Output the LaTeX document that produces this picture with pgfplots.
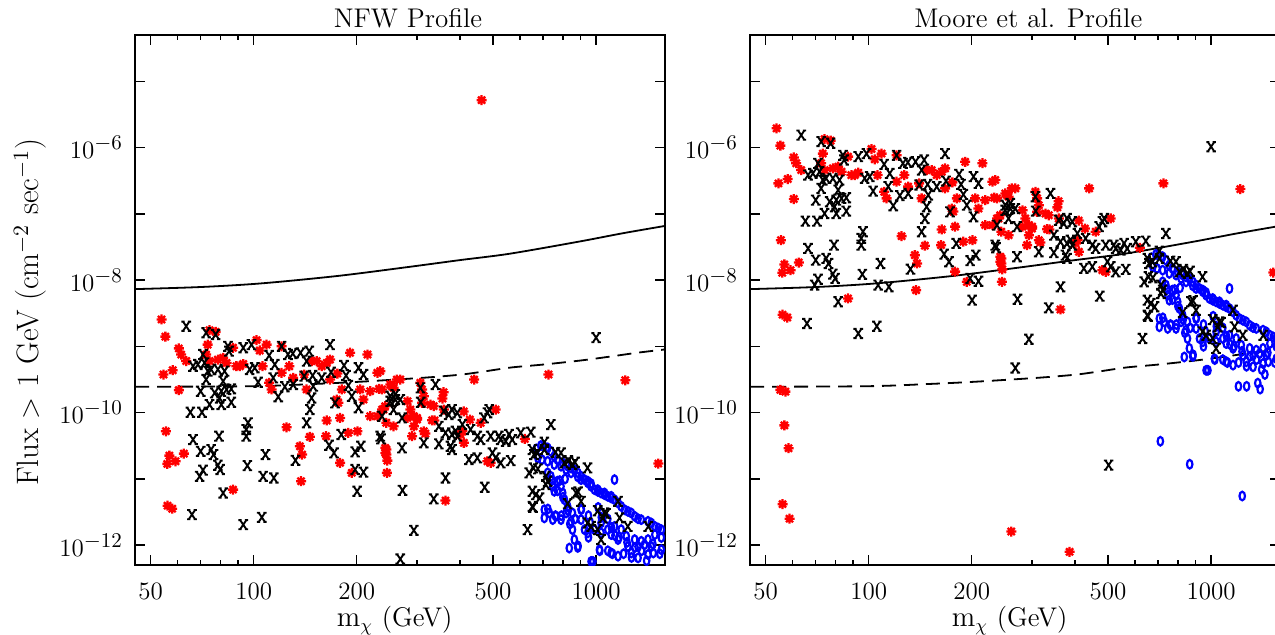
\documentclass[border=0pt]{standalone}
\usepackage{pgfplots}
\usepackage{pgfplotstable}
\usepackage{graphicx}
\pgfplotsset{compat=1.18}
\definecolor{pgred}{RGB}{255,0,0}
\definecolor{pgblue}{RGB}{0,0,255}
\newcommand{\tl}[1]{10\raisebox{4.4pt}{\fontsize{10.5}{12}\selectfont$-$#1}}

\pgfdeclareplotmark{ast8}{%
  \pgfpathmoveto{\pgfqpoint{-\pgfplotmarksize}{0pt}}\pgfpathlineto{\pgfqpoint{\pgfplotmarksize}{0pt}}%
  \pgfpathmoveto{\pgfqpoint{0pt}{-\pgfplotmarksize}}\pgfpathlineto{\pgfqpoint{0pt}{\pgfplotmarksize}}%
  \pgfpathmoveto{\pgfqpoint{-0.707\pgfplotmarksize}{-0.707\pgfplotmarksize}}\pgfpathlineto{\pgfqpoint{0.707\pgfplotmarksize}{0.707\pgfplotmarksize}}%
  \pgfpathmoveto{\pgfqpoint{-0.707\pgfplotmarksize}{0.707\pgfplotmarksize}}\pgfpathlineto{\pgfqpoint{0.707\pgfplotmarksize}{-0.707\pgfplotmarksize}}%
  \pgfusepathqstroke}
\pgfdeclareplotmark{serifx}{%
  \pgfpathmoveto{\pgfqpoint{-0.68\pgfplotmarksize}{-\pgfplotmarksize}}\pgfpathlineto{\pgfqpoint{0.68\pgfplotmarksize}{\pgfplotmarksize}}%
  \pgfpathmoveto{\pgfqpoint{-0.68\pgfplotmarksize}{\pgfplotmarksize}}\pgfpathlineto{\pgfqpoint{0.68\pgfplotmarksize}{-\pgfplotmarksize}}%
  \pgfpathmoveto{\pgfqpoint{-1.05\pgfplotmarksize}{\pgfplotmarksize}}\pgfpathlineto{\pgfqpoint{-0.35\pgfplotmarksize}{\pgfplotmarksize}}%
  \pgfpathmoveto{\pgfqpoint{0.35\pgfplotmarksize}{\pgfplotmarksize}}\pgfpathlineto{\pgfqpoint{1.05\pgfplotmarksize}{\pgfplotmarksize}}%
  \pgfpathmoveto{\pgfqpoint{-1.05\pgfplotmarksize}{-\pgfplotmarksize}}\pgfpathlineto{\pgfqpoint{-0.35\pgfplotmarksize}{-\pgfplotmarksize}}%
  \pgfpathmoveto{\pgfqpoint{0.35\pgfplotmarksize}{-\pgfplotmarksize}}\pgfpathlineto{\pgfqpoint{1.05\pgfplotmarksize}{-\pgfplotmarksize}}%
  \pgfusepathqstroke}

% x = m_chi (GeV), nfw = flux (NFW), moore = flux (Moore et al.)
\pgfplotstableread{
x nfw moore
53.8 2.54e-9 1.95e-6
55.2 1.40e-9 1.07e-6
60.4 9.3e-10 7.1e-7
61.4 7.5e-10 5.8e-7
63.5 6.0e-10 4.57e-7
54.5 3.75e-10 2.88e-7
58.0 4.36e-10 3.35e-7
60.4 2.18e-10 1.67e-7
74.3 1.75e-9 1.34e-6
77.4 1.65e-9 1.27e-6
73.4 1.06e-9 8.1e-7
72.6 7.5e-10 5.8e-7
74.3 6.0e-10 4.57e-7
78.6 6.3e-10 4.85e-7
81.4 6.7e-10 5.14e-7
83.3 5.6e-10 4.32e-7
87.0 9.5e-10 7.3e-7
89.0 5.0e-10 3.84e-7
91.0 5.0e-10 3.84e-7
93.2 5.4e-10 4.17e-7
101.9 1.24e-9 9.5e-7
104.1 8.65e-10 6.65e-7
106.1 5.0e-10 3.84e-7
109 1.06e-9 8.1e-7
120.6 1.0e-9 7.65e-7
110.9 2.81e-10 2.15e-7
112.7 2.23e-10 1.71e-7
120.6 3.98e-10 3.05e-7
127 5.0e-10 3.84e-7
130.4 3.34e-10 2.57e-7
124.7 6.0e-11 4.6e-8
140.4 3.75e-10 2.88e-7
147.6 6.0e-10 4.57e-7
152.7 6.0e-10 4.57e-7
158 5.0e-10 3.84e-7
163.4 5.6e-10 4.32e-7
167.1 3.15e-10 2.42e-7
175.5 3.88e-10 2.98e-7
142.7 2.23e-10 1.71e-7
136.4 3.1e-11 2.38e-8
137.5 9.2e-12 7.05e-9
145.9 4.3e-11 3.3e-8
138.4 2.32e-11 1.78e-8
163.4 7.6e-11 5.8e-8
162.6 4.4e-11 3.37e-8
178.7 8.3e-11 6.4e-8
191.2 8.0e-10 6.1e-7
174.7 1.57e-10 1.2e-7
176.6 1.41e-10 1.08e-7
180.9 2.23e-10 1.71e-7
188.9 4.94e-11 3.79e-8
178.7 1.74e-11 1.34e-8
193.4 1.23e-11 9.4e-9
200.9 5.22e-11 4.0e-8
214.9 7.52e-10 5.8e-7
204.6 2.23e-10 1.71e-7
218.9 2.1e-10 1.61e-7
209.2 1.57e-10 1.2e-7
229.8 3.98e-10 3.05e-7
232.4 2.28e-10 1.75e-7
239.5 1.11e-10 8.5e-8
218.9 8.8e-11 6.75e-8
229.8 8.8e-11 6.75e-8
243.9 7.0e-11 5.36e-8
256.1 6.2e-11 4.76e-8
243.9 2.76e-11 2.12e-8
243.9 2.32e-11 1.78e-8
245.6 1.88e-11 1.45e-8
245.0 1.23e-11 9.4e-9
253.4 2.5e-10 1.92e-7
261.8 3.15e-10 2.42e-7
55.4 5.22e-11 4.0e-8
56.7 2.24e-11 1.72e-8
55.9 1.68e-11 1.29e-8
59.1 1.84e-11 1.41e-8
62.5 2.4e-11 1.84e-8
56.0 3.93e-12 3.0e-9
57.8 3.54e-12 2.72e-9
87.0 6.87e-12 5.27e-9
167.1 6.32e-10 4.85e-7
234.2 4.22e-10 3.23e-7
250.5 2.65e-10 2.03e-7
256.1 2.36e-10 1.81e-7
268 3.15e-10 2.42e-7
237 2.23e-10 1.71e-7
237 1.11e-10 8.5e-8
242.2 1.25e-10 9.5e-8
242.2 2.93e-11 2.25e-8
242.2 2.46e-11 1.89e-8
281.3 1.48e-10 1.13e-7
286.8 1.11e-10 8.5e-8
293.6 8.8e-11 6.75e-8
281.3 8.3e-11 6.4e-8
293.6 6.2e-11 4.76e-8
300 8.3e-11 6.4e-8
306.8 2.81e-10 2.15e-7
310.4 2.23e-10 1.71e-7
313.9 1.76e-10 1.35e-7
310.4 1.4e-10 1.07e-7
328.2 1.32e-10 1.01e-7
335.6 1.25e-10 9.5e-8
313.9 5.22e-11 4.0e-8
317.3 4.82e-11 3.7e-8
337.2 7.6e-11 5.8e-8
300 7.84e-11 6.0e-8
290.1 4.4e-11 3.37e-8
355.9 1.63e-10 1.25e-7
359.1 1.11e-10 8.5e-8
331.8 7.65e-11 5.87e-8
410.6 1.04e-10 7.9e-8
358.5 2.03e-10 1.55e-7
407.2 5.22e-11 4.0e-8
402 4.66e-11 3.57e-8
411 3.49e-11 2.67e-8
428 7.84e-11 6.0e-8
440.5 3.15e-10 2.42e-7
460.1 7.0e-11 5.36e-8
509 1.11e-10 8.5e-8
481.4 1.84e-11 1.41e-8
492.2 1.74e-11 1.33e-8
363.2 4.69e-12 3.6e-9
619 4.0e-11 3.07e-8
726 3.75e-10 2.88e-7
1217 3.07e-10 2.36e-7
1520 1.7e-11 1.3e-8
463 5.2e-6 4.0e-3
55.2 2.9e-13 2.2e-10
57.1 2.7e-13 2.07e-10
56.7 8.4e-14 6.4e-11
58.3 3.8e-14 2.9e-11
56.0 5.4e-15 4.15e-12
58.7 3.3e-15 2.5e-12
260.8 2.1e-15 1.6e-12
386 1.0e-15 7.9e-13
}\reddata

\pgfplotstableread{
x nfw moore
63.5 2.01e-9 1.54e-6
72.6 1.6e-9 1.23e-6
77.4 1.51e-9 1.16e-6
84.1 1.0e-9 7.64e-7
84.7 8.44e-10 6.5e-7
93.2 9.5e-10 7.3e-7
98.5 1.06e-9 8.1e-7
110.9 7.26e-10 5.57e-7
120.6 1.0e-9 7.64e-7
125.9 7.52e-10 5.77e-7
130.1 7.78e-10 5.97e-7
137.0 7.98e-10 6.1e-7
145.2 8.44e-10 6.5e-7
142.7 5.96e-10 4.57e-7
66.5 5.0e-10 3.84e-7
68.7 5.31e-10 4.07e-7
71.1 7.52e-10 5.77e-7
71.8 5.63e-10 4.32e-7
73.4 4.22e-10 3.23e-7
75.1 4.47e-10 3.43e-7
78.6 4.47e-10 3.43e-7
82.2 4.22e-10 3.23e-7
72.6 3.15e-10 2.42e-7
81.4 2.97e-10 2.28e-7
97.3 4.47e-10 3.43e-7
100.7 4.74e-10 3.64e-7
103.0 2.87e-10 2.2e-7
115.2 5.31e-10 4.07e-7
114.0 3.34e-10 2.57e-7
117.9 1.73e-10 1.32e-7
123.3 2.45e-10 1.88e-7
130.4 2.65e-10 2.03e-7
140.4 3.54e-10 2.72e-7
148.6 3.62e-10 2.78e-7
158 3.34e-10 2.57e-7
147.6 1.66e-10 1.28e-7
145.9 1.11e-10 8.5e-8
142.7 7.0e-11 5.36e-8
149.2 2.5e-10 1.92e-7
167.1 1.06e-9 8.1e-7
168.2 4.06e-10 3.12e-7
172.8 1.4e-10 1.07e-7
183.6 5.13e-10 3.94e-7
186.1 3.62e-10 2.78e-7
189.0 2.56e-10 1.96e-7
193.4 1.76e-10 1.35e-7
202.3 4.74e-10 3.64e-7
209.2 3.75e-10 2.88e-7
202.3 1.18e-10 9.0e-8
70.0 2.1e-10 1.61e-7
76.9 1.98e-10 1.52e-7
80.4 2.1e-10 1.61e-7
83.3 2.23e-10 1.71e-7
86.0 2.28e-10 1.75e-7
79.5 1.66e-10 1.28e-7
80.4 1.32e-10 1.01e-7
86.0 1.43e-10 1.1e-7
74.3 1.32e-10 1.01e-7
65.3 1.01e-10 7.75e-8
70.6 1.01e-10 7.75e-8
96.2 7.0e-11 5.36e-8
95.1 5.54e-11 4.25e-8
95.1 4.4e-11 3.37e-8
79.2 4.4e-11 3.37e-8
66.5 3.91e-11 3.0e-8
70.0 2.6e-11 2.0e-8
75.1 2.76e-11 2.12e-8
76.3 2.32e-11 1.78e-8
108.2 2.32e-11 1.78e-8
69.5 1.09e-11 8.4e-9
71.1 1.35e-11 1.03e-8
78.6 1.6e-11 1.23e-8
79.8 1.38e-11 1.06e-8
95.8 1.58e-11 1.22e-8
106.5 1.09e-11 8.4e-9
114.5 1.03e-11 7.9e-9
81.4 6.1e-12 4.7e-9
132.4 1.9e-11 1.46e-8
66.0 2.88e-12 2.21e-9
93.2 2.03e-12 1.56e-9
105.6 2.62e-12 2.01e-9
166.0 3.21e-11 2.46e-8
171.6 2.46e-11 1.89e-8
180.2 4.66e-11 3.57e-8
197.8 2.55e-11 1.96e-8
205.6 3.1e-11 2.38e-8
197.8 1.38e-11 1.06e-8
209.2 1.26e-11 9.6e-9
200.4 6.48e-12 4.97e-9
235.3 4.0e-11 3.07e-8
250.5 1.76e-10 1.35e-7
259.1 1.87e-10 1.43e-7
237.0 8.8e-11 6.75e-8
256.1 1.11e-10 8.5e-8
339.5 2.65e-10 2.03e-7
259.1 1.57e-10 1.2e-7
268 1.57e-10 1.2e-7
250.5 1.48e-10 1.13e-7
271.1 8.3e-11 6.4e-8
234.2 4.4e-11 3.37e-8
271.1 2.93e-11 2.25e-8
306.8 2.36e-10 1.81e-7
307.5 1.43e-10 1.1e-7
313.9 3.49e-11 2.67e-8
347.3 3.37e-11 2.59e-8
359.1 1.05e-10 8.0e-8
371.1 9.33e-11 7.2e-8
379.3 1.11e-10 8.5e-8
393.1 9.9e-11 7.6e-8
347.3 6.2e-11 4.76e-8
363.2 4.94e-11 3.79e-8
379.3 4.66e-11 3.57e-8
388.6 5.22e-11 4.0e-8
393.1 4.4e-11 3.37e-8
375.7 3.1e-11 2.38e-8
379.3 2.76e-11 2.12e-8
406.9 6.59e-11 5.05e-8
430 5.54e-11 4.25e-8
449.9 4.4e-11 3.37e-8
460.1 3.91e-11 3.0e-8
470.8 8.3e-11 6.4e-8
481.9 9.9e-11 7.6e-8
487.2 1.11e-10 8.5e-8
492.2 4.4e-11 3.37e-8
520 4.4e-11 3.37e-8
526.6 3.91e-11 3.0e-8
544.7 3.69e-11 2.83e-8
557 4.66e-11 3.57e-8
569 3.91e-11 3.0e-8
602.7 4.94e-11 3.79e-8
644.8 5.06e-11 3.88e-8
425 1.95e-11 1.5e-8
449.9 2.07e-11 1.59e-8
498 2.46e-11 1.89e-8
509 2.07e-11 1.59e-8
526.6 1.74e-11 1.33e-8
563.4 1.88e-11 1.45e-8
738 6.59e-11 5.05e-8
1000 1.35e-9 1.03e-6
363.2 1.03e-11 7.9e-9
272 6.7e-12 5.14e-9
335.6 4.97e-12 3.81e-9
472.7 7.45e-12 5.71e-9
293.6 1.67e-12 1.28e-9
268 6.15e-13 4.7e-10
630.7 1.71e-12 1.31e-9
651.4 2.76e-11 2.12e-8
658.7 2.32e-11 1.78e-8
674.3 2.46e-11 1.89e-8
706.3 3.56e-11 2.73e-8
706.3 2.76e-11 2.12e-8
637.5 1.23e-11 9.4e-9
656 1.46e-11 1.12e-8
713.6 1.09e-11 8.4e-9
722 9.2e-12 7.05e-9
713.6 8.17e-12 6.27e-9
651.4 6.48e-12 4.97e-9
667 5.77e-12 4.43e-9
651.4 3.84e-12 2.94e-9
789.7 2.46e-11 1.89e-8
808 1.74e-11 1.33e-8
853 1.64e-11 1.26e-8
873.8 6.1e-12 4.7e-9
903.9 4.57e-12 3.5e-9
944 1.46e-11 1.12e-8
826 4.21e-12 3.23e-9
944 2.15e-12 1.65e-9
967 1.91e-12 1.47e-9
1011 1.71e-12 1.31e-9
1058 3.05e-12 2.34e-9
1046 2.57e-12 1.97e-9
1159 4.57e-12 3.5e-9
1171 2.57e-12 1.97e-9
1238 1.91e-12 1.47e-9
1420 1.91e-12 1.47e-9
1034 1.21e-12 9.3e-10
1011 3.3e-12 2.53e-9
1070 2.98e-12 2.29e-9
761 2.51e-11 1.93e-8
829 1.88e-11 1.45e-8
868 1.78e-11 1.36e-8
886 6.34e-12 4.87e-9
676 1.41e-11 1.08e-8
684 5.14e-12 3.95e-9
654 3.7e-12 2.84e-9
502 2.1e-14 1.61e-11
}\blackdata

\pgfplotstableread{
x nfw moore
703 3.1e-11 2.38e-8
722 2.93e-11 2.25e-8
738 2.6e-11 2.0e-8
755 2.19e-11 1.68e-8
771 1.95e-11 1.5e-8
799 1.74e-11 1.33e-8
826 1.55e-11 1.19e-8
845 1.46e-11 1.12e-8
864 1.38e-11 1.06e-8
884 1.23e-11 9.4e-9
904 1.09e-11 8.4e-9
925 9.73e-12 7.46e-9
946 8.68e-12 6.66e-9
967 7.7e-12 5.91e-9
989 6.87e-12 5.27e-9
1011 6.48e-12 4.97e-9
1034 6.12e-12 4.7e-9
1058 5.77e-12 4.43e-9
1082 5.44e-12 4.18e-9
1107 5.14e-12 3.95e-9
1132 4.85e-12 3.72e-9
1159 4.32e-12 3.31e-9
1184 3.84e-12 2.94e-9
1211 3.42e-12 2.62e-9
1239 3.22e-12 2.47e-9
1267 3.05e-12 2.34e-9
1296 2.72e-12 2.08e-9
1326 2.5e-12 1.92e-9
1355 2.42e-12 1.86e-9
1418 2.28e-12 1.75e-9
1450 2.15e-12 1.65e-9
1485 1.91e-12 1.47e-9
1520 1.8e-12 1.38e-9
1551 1.71e-12 1.31e-9
676 2.07e-11 1.59e-8
695 1.95e-11 1.5e-8
722 1.84e-11 1.41e-8
755 1.64e-11 1.26e-8
790 1.55e-11 1.19e-8
817 1.38e-11 1.06e-8
845 1.23e-11 9.4e-9
884 1.07e-11 8.2e-9
904 9.73e-12 7.46e-9
946 9.2e-12 7.05e-9
967 8.46e-12 6.49e-9
1011 6.87e-12 5.27e-9
1058 6.12e-12 4.7e-9
1107 5.44e-12 4.18e-9
669 2.83e-11 2.17e-8
690 3.18e-11 2.44e-8
722 1.23e-11 9.4e-9
738 1.09e-11 8.4e-9
747 7.7e-12 5.91e-9
755 6.48e-12 4.97e-9
771 9.2e-12 7.05e-9
790 7.7e-12 5.91e-9
799 6.12e-12 4.7e-9
808 4.85e-12 3.72e-9
826 3.84e-12 2.94e-9
706 3.42e-12 2.62e-9
706 2.57e-12 1.97e-9
730 3.05e-12 2.34e-9
747 2.42e-12 1.86e-9
763 2.72e-12 2.08e-9
790 2.42e-12 1.86e-9
817 3.05e-12 2.34e-9
853 3.05e-12 2.34e-9
845 2.28e-12 1.75e-9
853 1.71e-12 1.31e-9
864 1.21e-12 9.3e-10
904 3.42e-12 2.62e-9
904 2.42e-12 1.86e-9
925 1.71e-12 1.31e-9
946 1.53e-12 1.17e-9
989 1.71e-12 1.31e-9
1034 2.15e-12 1.65e-9
1034 1.53e-12 1.17e-9
1082 1.71e-12 1.31e-9
1107 1.44e-12 1.1e-9
1132 1.91e-12 1.47e-9
1132 9.73e-12 7.46e-9
1159 1.21e-12 9.3e-10
1184 1.71e-12 1.31e-9
1225 1.36e-12 1.04e-9
1239 9.5e-13 7.3e-10
1296 1.21e-12 9.3e-10
1326 9.5e-13 7.3e-10
1355 1.14e-12 8.75e-10
1385 1.01e-12 7.75e-10
1418 1.21e-12 9.3e-10
1450 9.5e-13 7.3e-10
1551 1.3e-12 9.95e-10
1485 1.44e-12 1.1e-9
1469 7.6e-13 5.85e-10
1551 8.5e-13 6.5e-10
835 9.0e-13 6.9e-10
884 9.2e-13 7.05e-10
967 5.66e-13 4.34e-10
1023 8.5e-13 6.5e-10
1107 7.6e-13 5.85e-10
1159 6.8e-13 5.2e-10
1326 6.4e-13 4.9e-10
1418 7.2e-13 5.5e-10
1267 7.6e-13 5.85e-10
743 9.4e-12 7.2e-9
783 9.4e-12 7.2e-9
812 9.97e-12 7.65e-9
772 6.6e-12 5.08e-9
800 5.26e-12 4.03e-9
723 3.5e-12 2.69e-9
761 2.78e-12 2.13e-9
792 2.78e-12 2.13e-9
829 3.3e-12 2.53e-9
868 2.48e-12 1.9e-9
838 2.08e-12 1.6e-9
906 3.5e-12 2.69e-9
950 2.78e-12 2.13e-9
961 2.2e-12 1.69e-9
1014 3.7e-12 2.84e-9
1036 2.62e-12 2.01e-9
1082 2.48e-12 1.9e-9
1109 1.85e-12 1.42e-9
1135 1.39e-12 1.07e-9
1167 1.31e-12 1.0e-9
1231 1.1e-12 8.4e-10
1299 9.2e-13 7.06e-10
1358 8.2e-13 6.3e-10
1405 5.8e-13 4.45e-10
1436 4.9e-13 3.76e-10
1465 1.04e-12 8.0e-10
1535 7.4e-13 5.7e-10
950 1.31e-12 1.0e-9
886 9.7e-13 7.45e-10
1025 8.2e-13 6.3e-10
1082 8.2e-13 6.3e-10
1116 7.4e-13 5.7e-10
1203 7.4e-13 5.7e-10
1269 6.5e-13 5.0e-10
979 5.66e-13 4.34e-10
1202 3.24e-13 2.49e-10
1270 3.24e-13 2.49e-10
1391 2.95e-13 2.26e-10
1369 3.63e-13 2.78e-10
711 4.8e-14 3.69e-11
866 2.2e-14 1.66e-11
1233 7.2e-15 5.5e-12
}\bluedata

\pgfplotstableread{
x y
45 7.3e-9
70 7.85e-9
105 8.9e-9
175 1.15e-8
279 1.56e-8
400 2.0e-8
560 2.5e-8
890 3.8e-8
1200 5.1e-8
1600 6.6e-8
}\solidline

\pgfplotstableread{
x y
45 2.45e-10
100 2.5e-10
150 2.7e-10
200 2.9e-10
260 3.15e-10
325 3.4e-10
405 3.75e-10
475 4.2e-10
567 4.8e-10
700 5.3e-10
900 6.1e-10
1100 7.0e-10
1320 8.0e-10
1600 9.0e-10
}\dashedline

\begin{document}
\begin{tikzpicture}
\begin{axis}[
  scale only axis, width=265pt, height=265pt,
  xmode=log, ymode=log,
  xmin=45, xmax=1590, ymin=5e-13, ymax=5e-5,
  xtick={50,100,200,500,1000},
  xticklabels={50,100,200,500,1000},
  minor xtick={60,70,80,90,300,400,600,700,800,900},
  ytick={1e-12,1e-11,1e-10,1e-9,1e-8,1e-7,1e-6,1e-5},
  yticklabels={\tl{12},{},\tl{10},{},\tl{8},{},\tl{6},{}},
  yminorticks=false,
  tick align=inside, tick pos=both,
  major tick length=5pt, minor tick length=2.5pt,
  tick style={black, line width=0.7pt},
  axis line style={line width=0.9pt},
  tick label style={font=\fontsize{12.5}{15}\selectfont},
  xticklabel style={yshift=-5.5pt},
  yticklabel style={xshift=-3pt},
  xlabel={$\mathrm{m}_\chi$ (GeV)},
  xlabel style={font=\fontsize{13.5}{16}\selectfont, at={(axis description cs:0.49,-0.105)}, anchor=center},
  clip marker paths=true,
  every axis title shift=0pt,
  title={NFW Profile},
  title style={font=\fontsize{13.5}{16}\selectfont, at={(axis description cs:0.515,1.032)}, anchor=center},
  ylabel={Flux $>$ 1 GeV (cm$^{-2}$ sec$^{-1}$)},
  ylabel style={font=\fontsize{15.5}{18}\selectfont, at={(axis description cs:-0.198,0.477)}, anchor=center},
]
\addplot[black, line width=0.9pt, smooth, no marks] table[x=x,y=y] {\solidline};
\addplot[black, line width=0.9pt, smooth, no marks, dash pattern=on 7pt off 4pt] table[x=x,y=y] {\dashedline};
\addplot[only marks, mark=ast8, mark size=2.5pt, color=pgred, line width=1.15pt] table[x=x,y=nfw] {\reddata};
\addplot[only marks, mark=o, mark size=2.15pt, color=pgblue, line width=1.1pt, mark options={xscale=0.64}] table[x=x,y=nfw] {\bluedata};
\addplot[only marks, mark=serifx, mark size=2.3pt, color=black, line width=0.95pt] table[x=x,y=nfw] {\blackdata};
\end{axis}
\begin{axis}[at={(307.5pt,0pt)},
  scale only axis, width=265pt, height=265pt,
  xmode=log, ymode=log,
  xmin=45, xmax=1590, ymin=5e-13, ymax=5e-5,
  xtick={50,100,200,500,1000},
  xticklabels={50,100,200,500,1000},
  minor xtick={60,70,80,90,300,400,600,700,800,900},
  ytick={1e-12,1e-11,1e-10,1e-9,1e-8,1e-7,1e-6,1e-5},
  yticklabels={\tl{12},{},\tl{10},{},\tl{8},{},\tl{6},{}},
  yminorticks=false,
  tick align=inside, tick pos=both,
  major tick length=5pt, minor tick length=2.5pt,
  tick style={black, line width=0.7pt},
  axis line style={line width=0.9pt},
  tick label style={font=\fontsize{12.5}{15}\selectfont},
  xticklabel style={yshift=-5.5pt},
  yticklabel style={xshift=-3pt},
  xlabel={$\mathrm{m}_\chi$ (GeV)},
  xlabel style={font=\fontsize{13.5}{16}\selectfont, at={(axis description cs:0.49,-0.105)}, anchor=center},
  clip marker paths=true,
  every axis title shift=0pt,
  title={Moore et al. Profile},
  title style={font=\fontsize{13.5}{16}\selectfont, at={(axis description cs:0.525,1.032)}, anchor=center},
]
\addplot[black, line width=0.9pt, smooth, no marks] table[x=x,y=y] {\solidline};
\addplot[black, line width=0.9pt, smooth, no marks, dash pattern=on 7pt off 4pt] table[x=x,y=y] {\dashedline};
\addplot[only marks, mark=ast8, mark size=2.5pt, color=pgred, line width=1.15pt] table[x=x,y=moore] {\reddata};
\addplot[only marks, mark=o, mark size=2.15pt, color=pgblue, line width=1.1pt, mark options={xscale=0.64}] table[x=x,y=moore] {\bluedata};
\addplot[only marks, mark=serifx, mark size=2.3pt, color=black, line width=0.95pt] table[x=x,y=moore] {\blackdata};
\end{axis}
\pgfresetboundingbox
\path[use as bounding box] (-67.5pt,-35pt) rectangle (570pt,282.5pt);
\end{tikzpicture}
\end{document}
